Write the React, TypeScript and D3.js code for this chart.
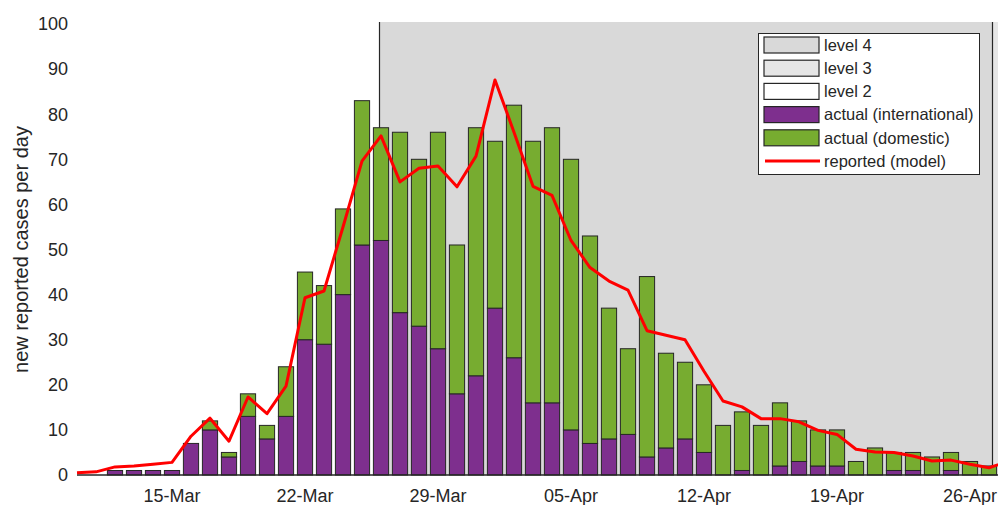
import React, { useEffect, useRef } from "react";
import * as d3 from "d3";

// daily counts, 12-Mar .. 27-Apr 2020
const barDays = [
  "2020-03-12", "2020-03-13", "2020-03-14", "2020-03-15", "2020-03-16", "2020-03-17", "2020-03-18",
  "2020-03-19", "2020-03-20", "2020-03-21", "2020-03-22", "2020-03-23", "2020-03-24", "2020-03-25",
  "2020-03-26", "2020-03-27", "2020-03-28", "2020-03-29", "2020-03-30", "2020-03-31", "2020-04-01",
  "2020-04-02", "2020-04-03", "2020-04-04", "2020-04-05", "2020-04-06", "2020-04-07", "2020-04-08",
  "2020-04-09", "2020-04-10", "2020-04-11", "2020-04-12", "2020-04-13", "2020-04-14", "2020-04-15",
  "2020-04-16", "2020-04-17", "2020-04-18", "2020-04-19", "2020-04-20", "2020-04-21", "2020-04-22",
  "2020-04-23", "2020-04-24", "2020-04-25", "2020-04-26", "2020-04-27",
];
const international = [
  1, 1, 1, 1, 7, 10, 4, 13, 8, 13, 30, 29, 40, 51, 52, 36, 33, 28, 18, 22, 37,
  26, 16, 16, 10, 7, 8, 9, 4, 6, 8, 5, 0, 1, 0, 2, 3, 2, 2, 0, 0, 1, 1, 0, 1, 0, 0,
];
const domestic = [
  0, 0, 0, 0, 0, 2, 1, 5, 3, 11, 15, 13, 19, 32, 25, 40, 37, 48, 33, 55, 37,
  56, 58, 61, 60, 46, 29, 19, 40, 21, 17, 15, 11, 13, 11, 14, 9, 8, 8, 3, 6, 4, 4, 4, 4, 3, 2,
];

// model curve, 10-Mar .. 28-Apr
const modelStart = "2020-03-10";
const modelValues = [
  0.5, 0.7, 1.8, 2.0, 2.4, 2.8, 8.6, 12.6, 7.5, 17.3, 13.6, 19.7, 39.3, 40.8, 55, 69.6, 75.2,
  65.0, 68.0, 68.5, 63.9, 70.7, 87.6, 76, 64, 62, 52, 46, 43, 41, 32, 31, 30, 23, 16.4, 15.1,
  12.5, 12.5, 11.8, 9.9, 9.0, 5.7, 5.1, 5.0, 4.2, 3.1, 3.3, 2.4, 1.6, 3,
];

const tickDays = ["2020-03-15", "2020-03-22", "2020-03-29", "2020-04-05", "2020-04-12", "2020-04-19", "2020-04-26"];
const yTicks = [0, 10, 20, 30, 40, 50, 60, 70, 80, 90, 100];

const level4 = ["2020-03-25T21:40", "2020-04-27T04:00"];
const level3 = ["2020-04-27T04:00", "2020-05-13T23:59"];

const legendLabels = ["level 4", "level 3", "level 2", "actual (international)", "actual (domestic)", "reported (model)"];

const FONT = "'Liberation Sans', Arial, Helvetica, sans-serif";
const INK = "#262626";

const App = () => {
  const ref = useRef(null);

  useEffect(() => {
    const svg = d3.select(ref.current);
    svg.selectAll("*").remove();

    const parse = (s: string) => new Date(s + (s.length === 10 ? "T00:00Z" : "Z"));
    const day0 = parse(modelStart);
    const x = d3
      .scaleUtc()
      .domain([day0, d3.utcDay.offset(day0, 49)])
      .range([77, 77 + 49 * 19]);
    const y = d3.scaleLinear().domain([0, 100]).range([475, 24]);
    const band = 19 * 0.8;
    const top = y(100) - 2;

    // lockdown level patches
    const lv = svg.append("g");
    lv.append("rect")
      .attr("x", x(parse(level3[0])))
      .attr("y", top)
      .attr("width", x(parse(level3[1])) - x(parse(level3[0])))
      .attr("height", y(0) - top)
      .attr("fill", "#e6e6e6");
    lv.append("rect")
      .attr("x", x(parse(level4[0])))
      .attr("y", top)
      .attr("width", x(parse(level4[1])) - x(parse(level4[0])))
      .attr("height", y(0) - top)
      .attr("fill", "#d9d9d9");
    level4.forEach(d => {
      lv.append("line")
        .attr("x1", Math.round(x(parse(d))) + 0.5)
        .attr("x2", Math.round(x(parse(d))) + 0.5)
        .attr("y1", top)
        .attr("y2", y(0))
        .attr("stroke", INK)
        .attr("stroke-width", 1.2);
    });

    // stacked bars
    const rows = barDays.map((d, i) => ({ date: parse(d), intl: international[i], dom: domestic[i] }));
    const bars = svg.append("g").attr("stroke", INK).attr("stroke-width", 1);
    bars.selectAll("rect.intl")
      .data(rows)
      .enter()
      .append("rect")
      .attr("class", "intl")
      .attr("x", d => x(d.date) - band / 2)
      .attr("width", band)
      .attr("y", d => y(d.intl))
      .attr("height", d => y(0) - y(d.intl))
      .attr("fill", "#7e2f8e");
    bars.selectAll("rect.dom")
      .data(rows.filter(d => d.dom > 0))
      .enter()
      .append("rect")
      .attr("class", "dom")
      .attr("x", d => x(d.date) - band / 2)
      .attr("width", band)
      .attr("y", d => y(d.intl + d.dom))
      .attr("height", d => y(d.intl) - y(d.intl + d.dom))
      .attr("fill", "#77ac30");

    // x baseline
    svg.append("line")
      .attr("x1", x.range()[0])
      .attr("x2", x.range()[1])
      .attr("y1", y(0))
      .attr("y2", y(0))
      .attr("stroke", INK)
      .attr("stroke-width", 1.5);

    // model line
    const line = d3
      .line<number>()
      .x((d, i) => x(d3.utcDay.offset(day0, i)))
      .y(d => y(d));
    svg.append("path")
      .attr("d", line(modelValues))
      .attr("fill", "none")
      .attr("stroke", "#ff0000")
      .attr("stroke-width", 3)
      .attr("stroke-linejoin", "round");

    // axes text
    const fmt = d3.utcFormat("%d-%b");
    svg.append("g")
      .selectAll("text")
      .data(tickDays)
      .enter()
      .append("text")
      .attr("x", d => x(parse(d)))
      .attr("y", 502)
      .attr("text-anchor", "middle")
      .attr("font-size", 18)
      .attr("font-family", FONT)
      .attr("fill", INK)
      .text(d => fmt(parse(d)));

    svg.append("g")
      .selectAll("text")
      .data(yTicks)
      .enter()
      .append("text")
      .attr("x", 68)
      .attr("y", d => y(d))
      .attr("dy", "0.35em")
      .attr("text-anchor", "end")
      .attr("font-size", 18)
      .attr("font-family", FONT)
      .attr("fill", INK)
      .text(d => d);

    svg.append("text")
      .attr("transform", `translate(28 ${(y(0) + y(100)) / 2}) rotate(-90)`)
      .attr("text-anchor", "middle")
      .attr("font-size", 20)
      .attr("font-family", FONT)
      .attr("fill", INK)
      .text("new reported cases per day");

    // legend
    const lg = svg.append("g").attr("transform", "translate(758 33)");
    lg.append("rect")
      .attr("x", 0.5)
      .attr("y", 0.5)
      .attr("width", 221)
      .attr("height", 141)
      .attr("fill", "#ffffff")
      .attr("stroke", INK)
      .attr("stroke-width", 1);
    const swatch = ["#d9d9d9", "#e6e6e6", "#ffffff", "#7e2f8e", "#77ac30"];
    legendLabels.forEach((label, i) => {
      const cy = 12 + i * 23.2;
      if (i < 5) {
        lg.append("rect")
          .attr("x", 6)
          .attr("y", cy - 8)
          .attr("width", 55)
          .attr("height", 16)
          .attr("fill", swatch[i])
          .attr("stroke", INK)
          .attr("stroke-width", 1.2);
      } else {
        lg.append("line")
          .attr("x1", 7)
          .attr("x2", 62)
          .attr("y1", cy)
          .attr("y2", cy)
          .attr("stroke", "#ff0000")
          .attr("stroke-width", 3);
      }
      lg.append("text")
        .attr("x", 66)
        .attr("y", cy)
        .attr("dy", "0.35em")
        .attr("font-size", 16.5)
        .attr("font-family", FONT)
        .attr("fill", INK)
        .text(label);
    });
  }, []);

  return (
    <svg
      ref={ref}
      width={998}
      height={505}
      style={{ position: "absolute", left: 0, top: 0, background: "#ffffff" }}
    />
  );
};

export default App;
